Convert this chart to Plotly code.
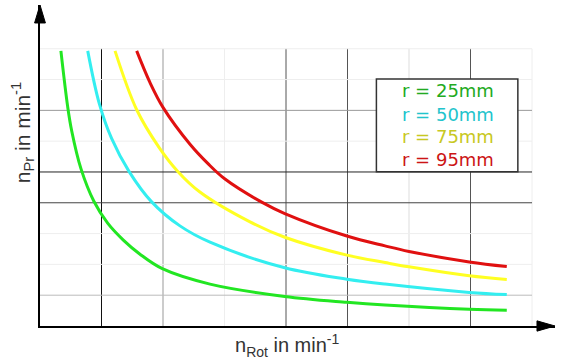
import plotly.graph_objects as go

# ---- data (units: one grid cell = 1) ----
labels = ["r = 25mm", "r = 50mm", "r = 75mm", "r = 95mm"]
line_colors = ["#22e622", "#33eef0", "#ffff22", "#e01010"]
text_colors = ["#22aa22", "#22c4cc", "#c8c822", "#cc1515"]

r25_x = [0.34, 0.45, 0.515, 0.667, 0.878, 1.10, 1.355, 1.626, 1.989, 2.764, 3.98, 4.99, 5.61, 6.98, 7.59]
r25_y = [8.93, 7.12, 6.34, 5.10, 4.04, 3.34, 2.79, 2.33, 1.86, 1.36, 0.96, 0.77, 0.68, 0.54, 0.51]

r50_x = [0.776, 0.964, 1.166, 1.447, 1.816, 2.276, 2.764, 3.98, 4.99, 5.61, 6.98, 7.59]
r50_y = [8.93, 7.22, 6.08, 5.02, 4.03, 3.25, 2.72, 1.89, 1.52, 1.36, 1.09, 1.02]

r75_x = [1.22, 1.572, 1.935, 2.244, 2.60, 3.415, 3.98, 4.99, 5.61, 6.0, 6.98, 7.59]
r75_y = [8.93, 7.02, 5.80, 5.01, 4.35, 3.38, 2.88, 2.30, 2.06, 1.92, 1.63, 1.51]

r95_x = [1.572, 1.789, 2.005, 2.439, 2.732, 3.008, 3.605, 3.98, 4.99, 5.61, 6.0, 6.98, 7.59]
r95_y = [8.93, 7.90, 7.08, 5.90, 5.27, 4.77, 4.02, 3.65, 2.92, 2.60, 2.42, 2.08, 1.93]

series_x = [r25_x, r50_x, r75_x, r95_x]
series_y = [r25_y, r50_y, r75_y, r95_y]

grid_x = [1, 2, 3, 4, 5, 6, 7, 8]
grid_x_colors = ["#111111", "#999999", "#eeeeee", "#555555", "#555555", "#dddddd", "#555555", "#eeeeee"]
grid_y = [1, 2, 3, 4, 5, 6, 7, 8, 9]
grid_y_colors = ["#bbbbbb", "#eeeeee", "#eeeeee", "#444444", "#222222", "#eeeeee", "#999999", "#eeeeee", "#eeeeee"]

x_title = "n<sub>Rot</sub> in min<sup>-1</sup>"
y_title = "n<sub>Pr</sub> in min<sup>-1</sup>"

LEG_FONT = "DejaVu Sans"
AX_FONT = "Liberation Sans"

fig = go.Figure()
for xs, ys, c, lab in zip(series_x, series_y, line_colors, labels):
    fig.add_trace(go.Scatter(x=xs, y=ys, mode="lines", name=lab,
                             line=dict(color=c, width=3, shape="spline", smoothing=1.0),
                             hoverinfo="skip"))

shapes = []
for gx, gc in zip(grid_x, grid_x_colors):
    shapes.append(dict(type="line", xref="x", yref="y", x0=gx, x1=gx, y0=0, y1=9,
                       line=dict(color=gc, width=1), layer="below"))
for gy, gc in zip(grid_y, grid_y_colors):
    shapes.append(dict(type="line", xref="x", yref="y", x0=0, x1=8, y0=gy, y1=gy,
                       line=dict(color=gc, width=1), layer="below"))

# legend box
shapes.append(dict(type="rect", xref="x", yref="y", x0=5.47, x1=7.77, y0=5.01, y1=8.02,
                   line=dict(color="#333333", width=1.5), fillcolor="white", layer="below"))

# axis arrows
shapes.append(dict(type="path", xref="paper", yref="paper",
                   path="M 0.965 -0.016 L 1.0 0 L 0.965 0.016 Z",
                   fillcolor="black", line=dict(color="black", width=1)))
shapes.append(dict(type="path", xref="paper", yref="paper",
                   path="M -0.0105 0.944 L 0 1.0 L 0.0105 0.944 Z",
                   fillcolor="black", line=dict(color="black", width=1)))

annotations = []
legend_y = [7.63, 6.88, 6.14, 5.39]
for lab, tc, ly in zip(labels, text_colors, legend_y):
    annotations.append(dict(x=6.63, y=ly, xref="x", yref="y", text=lab, showarrow=False,
                            font=dict(family=LEG_FONT, size=18, color=tc),
                            xanchor="center", yanchor="middle"))

annotations.append(dict(x=4.02, y=0, xref="x", yref="paper", yshift=-19, text=x_title,
                        showarrow=False, font=dict(family=AX_FONT, size=20, color="#333333"),
                        xanchor="center", yanchor="middle"))
annotations.append(dict(x=0, y=6.26, xref="paper", yref="y", xshift=-18, text=y_title,
                        showarrow=False, textangle=-90,
                        font=dict(family=AX_FONT, size=21, color="#333333"),
                        xanchor="center", yanchor="middle"))

fig.update_layout(
    width=563, height=364,
    margin=dict(l=40, r=8, t=5, b=38),
    paper_bgcolor="white", plot_bgcolor="white",
    showlegend=False,
    shapes=shapes,
    annotations=annotations,
    xaxis=dict(range=[0, 8.374], showgrid=False, zeroline=False, showticklabels=False,
               ticks="", showline=True, linecolor="black", linewidth=2, fixedrange=True),
    yaxis=dict(range=[0, 10.42], showgrid=False, zeroline=False, showticklabels=False,
               ticks="", showline=True, linecolor="black", linewidth=2, fixedrange=True),
)

fig.write_html("out.html", config={"displayModeBar": False},
               post_script="document.body.style.margin='0';document.body.style.overflow='hidden';")
